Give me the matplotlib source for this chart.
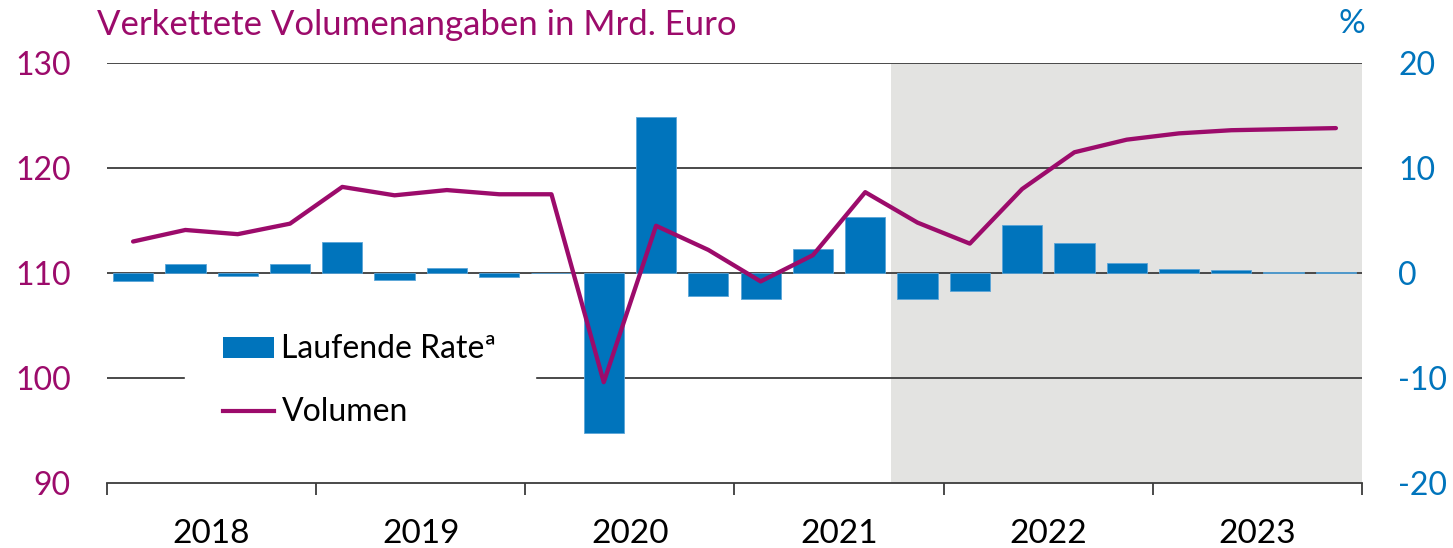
import numpy as np
import matplotlib.pyplot as plt
from matplotlib.patches import Patch
from matplotlib.lines import Line2D

plt.rcParams['font.family'] = ['Lato', 'DejaVu Sans']
plt.rcParams['axes.unicode_minus'] = False

# quarterly data 2018Q1 - 2023Q4
years = ["2018", "2019", "2020", "2021", "2022", "2023"]
volumen = [113.0, 114.1, 113.7, 114.7, 118.2, 117.4, 117.9, 117.5,
           117.5, 99.6, 114.5, 112.2, 109.2, 111.7, 117.7, 114.8,
           112.8, 118.0, 121.5, 122.7, 123.3, 123.6, 123.7, 123.8]
rate = [-0.8, 0.85, -0.3, 0.9, 3.0, -0.7, 0.45, -0.4,
        0.0, -15.2, 14.9, -2.2, -2.5, 2.25, 5.3, -2.5,
        -1.7, 4.6, 2.9, 1.0, 0.4, 0.25, 0.1, 0.1]
forecast_start = 15  # first projected quarter

MAGENTA = '#9C0B6B'
BLUE = '#0074BC'
GRID = '#3C3C3C'

x = np.arange(len(volumen))

fig = plt.figure(figsize=(14.53, 5.48), dpi=100)
ax = fig.add_axes([0.0736, 0.1186, 0.8638, 0.7664])
ax2 = ax.twinx()

# bars on the right axis, drawn below the line axis
ax.set_zorder(ax2.get_zorder() + 1)
ax.patch.set_visible(False)

ax2.axvspan(forecast_start - 0.5, len(x) - 0.5, color='#E3E3E1', lw=0, zorder=0)
for v in [-10, 0, 10, 20]:
    ax2.axhline(v, color=GRID, lw=1.3, zorder=1)
ax2.bar(x, rate, width=0.77, color=BLUE, edgecolor='#5AA5D8', linewidth=0.6, zorder=2)

ax.plot(x, volumen, color=MAGENTA, lw=3.1, solid_capstyle='round', zorder=3)

ax.set_xlim(-0.5, len(x) - 0.5)
ax.set_ylim(90, 130)
ax2.set_ylim(-20, 20)
ax.set_yticks([90, 100, 110, 120, 130])
ax2.set_yticks([-20, -10, 0, 10, 20])

for a in (ax, ax2):
    for s in ['top', 'left', 'right', 'bottom']:
        a.spines[s].set_visible(False)
ax.spines['bottom'].set_visible(True)
ax.spines['bottom'].set_color(GRID)
ax.spines['bottom'].set_linewidth(1.3)

ax.tick_params(axis='y', length=0, pad=26, labelsize=23, labelcolor=MAGENTA)
ax2.tick_params(axis='y', length=0, pad=26, labelsize=23, labelcolor=BLUE)

# year boundaries as ticks, year names centred between them
ax.set_xticks(np.arange(-0.5, len(x), 4))
ax.set_xticklabels([])
ax.set_xticks(np.arange(1.5, len(x), 4), minor=True)
ax.set_xticklabels(years, minor=True)
ax.tick_params(axis='x', which='major', length=8.5, width=1.3, color=GRID, direction='out')
ax.tick_params(axis='x', which='minor', length=0, pad=26, labelsize=24, labelcolor='black')

fig.text(97 / 1453, 1 - 35 / 548, "Verkettete Volumenangaben in Mrd. Euro",
         color=MAGENTA, fontsize=25, ha='left', va='baseline')
fig.text(1352 / 1453, 1 - 33 / 548, "%", color=BLUE, fontsize=24, ha='center', va='baseline')

handles = [Patch(facecolor=BLUE, edgecolor='none'),
           Line2D([], [], color=MAGENTA, lw=3)]
leg = ax.legend(handles, ["Laufende Rate\u00aa", "Volumen"],
                loc='upper left', bbox_to_anchor=(0.0622, 0.445),
                fontsize=23, frameon=True, fancybox=False, framealpha=1,
                edgecolor='white', facecolor='white', handlelength=1.6,
                handleheight=0.62, handletextpad=0.22, labelspacing=1.03,
                borderpad=1.2, borderaxespad=0)
leg.set_zorder(5)

fig.savefig("out.png", dpi=100)
